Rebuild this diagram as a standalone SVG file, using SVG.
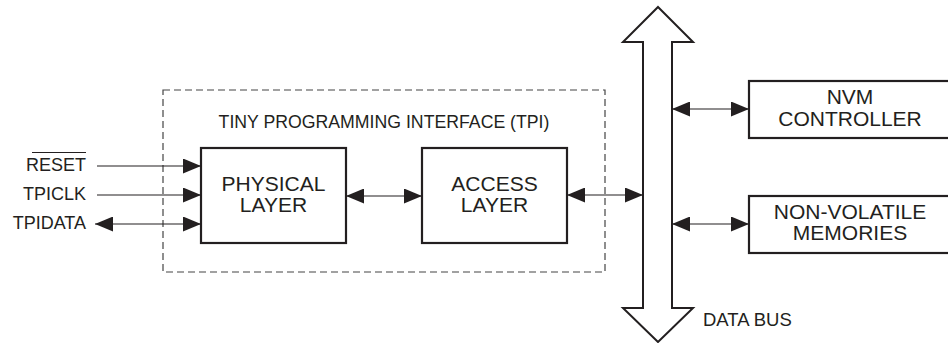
<svg xmlns="http://www.w3.org/2000/svg" width="948" height="343" viewBox="0 0 948 343">
<style>
  .box { fill: #fff; stroke: #231f20; stroke-width: 2.2; }
  .lbl { font-family: "Liberation Sans", Arial, sans-serif; font-size: 21px; fill: #231f20; text-anchor: middle; }
  .sig { font-family: "Liberation Sans", Arial, sans-serif; font-size: 18px; fill: #231f20; }
  .wire { stroke: #231f20; stroke-width: 1.2; fill: none; }
  .bus { fill: #fff; stroke: #231f20; stroke-width: 2; stroke-linejoin: miter; }
  .frame { fill: none; stroke: #444; stroke-width: 1.2; stroke-dasharray: 7 4; }
</style>
<defs>
  <marker id="ah" markerUnits="userSpaceOnUse" markerWidth="19" markerHeight="15" refX="18" refY="7.5" orient="auto-start-reverse">
    <path d="M0,0 L18,7.5 L0,15 z" fill="#231f20"/>
  </marker>
</defs>
<rect width="948" height="343" fill="#fff"/>

<g id="tpi-frame">
  <rect class="frame" x="163" y="90" width="442" height="182"/>
  <text class="sig" x="384" y="128" text-anchor="middle" style="font-size:17.7px">TINY PROGRAMMING INTERFACE (TPI)</text>
</g>

<g id="data-bus">
  <path class="bus" d="M658,7 L693,42 L672,42 L672,308 L693,308 L658,342 L623,308 L643,308 L643,42 L623,42 Z"/>
  <text class="sig" x="703" y="326" style="font-size:18.5px">DATA BUS</text>
</g>

<g id="physical-layer">
  <rect class="box" x="201" y="148" width="145" height="95"/>
  <text class="lbl" x="273.5" y="191">PHYSICAL</text>
  <text class="lbl" x="273.5" y="212">LAYER</text>
</g>

<g id="access-layer">
  <rect class="box" x="422" y="148" width="145" height="95"/>
  <text class="lbl" x="494.5" y="191">ACCESS</text>
  <text class="lbl" x="494.5" y="212">LAYER</text>
</g>

<g id="nvm-controller">
  <rect class="box" x="749" y="81" width="205" height="57"/>
  <text class="lbl" x="850" y="104">NVM</text>
  <text class="lbl" x="850" y="126">CONTROLLER</text>
</g>

<g id="non-volatile-memories">
  <rect class="box" x="749" y="196" width="205" height="57"/>
  <text class="lbl" x="850" y="219">NON-VOLATILE</text>
  <text class="lbl" x="850" y="240">MEMORIES</text>
</g>

<g id="signals">
  <text class="sig" x="86" y="171" text-anchor="end">RESET</text>
  <line x1="32" y1="152.5" x2="86" y2="152.5" stroke="#231f20" stroke-width="1.2"/>
  <text class="sig" x="86" y="200" text-anchor="end">TPICLK</text>
  <text class="sig" x="86" y="229" text-anchor="end">TPIDATA</text>
</g>

<g id="connectors">
  <line class="wire" x1="97" y1="166" x2="201" y2="166" marker-end="url(#ah)"/>
  <line class="wire" x1="97" y1="195" x2="201" y2="195" marker-end="url(#ah)"/>
  <line class="wire" x1="95" y1="224" x2="201" y2="224" marker-start="url(#ah)" marker-end="url(#ah)"/>
  <line class="wire" x1="346" y1="196" x2="422" y2="196" marker-start="url(#ah)" marker-end="url(#ah)"/>
  <line class="wire" x1="567" y1="195" x2="643" y2="195" marker-start="url(#ah)" marker-end="url(#ah)"/>
  <line class="wire" x1="672" y1="109" x2="749" y2="109" marker-start="url(#ah)" marker-end="url(#ah)"/>
  <line class="wire" x1="672" y1="224" x2="749" y2="224" marker-start="url(#ah)" marker-end="url(#ah)"/>
</g>
</svg>
